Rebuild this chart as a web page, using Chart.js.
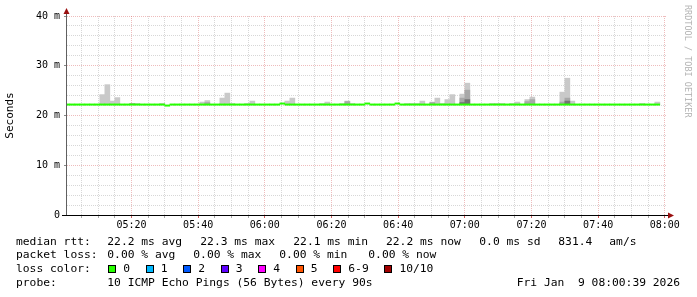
<!DOCTYPE html>
<html>
<head>
<meta charset="utf-8">
<script src="https://cdn.jsdelivr.net/npm/chart.js@4.4.1/dist/chart.umd.min.js"></script>
<style>
  html, body { margin: 0; padding: 0; background: #fff; }
  #wrap { position: relative; width: 697px; height: 297px; overflow: hidden; font-family: "DejaVu Sans Mono", monospace; }
  #chart { position: absolute; left: 0; top: 0; }
  .t { position: absolute; font-size: 11.3px; line-height: 14px; white-space: pre; color: #000; }
  .sq { position: absolute; width: 6px; height: 6px; border: 1px solid #000; }
  #credit { position: absolute; left: 693px; top: 5px; transform-origin: 0 0; transform: rotate(90deg);
            font-size: 8.5px; line-height: 10px; color: #b4b4b4; white-space: pre; }
</style>
</head>
<body>
<div id="wrap">
  <canvas id="chart" width="697" height="297"></canvas>
  <div id="credit">RRDTOOL / TOBI OETIKER</div>
  <div id="legend"></div>
</div>
<script>
// 90 s steps starting 05:00:00, graph window 05:00:39 - 08:00:39
const slotStartMin = 300;
const slotMin = 1.5;
const viewStartMin = 300 + 39 / 60;
const viewEndMin = 480 + 39 / 60;

// median rtt per step (ms)
const medianMs = [
  22.2, 22.2, 22.2, 22.2, 22.2, 22.2, 22.2, 22.2, 22.2, 22.2, 22.2, 22.2, 22.2, 22.2, 22.2, 22.2, 22.2, 22.2, 22.2, 22.2,
  22.0, 22.2, 22.2, 22.2, 22.2, 22.2, 22.2, 22.2, 22.2, 22.2, 22.2, 22.2, 22.2, 22.2, 22.2, 22.2, 22.2, 22.2, 22.2, 22.2,
  22.2, 22.2, 22.2, 22.4, 22.2, 22.2, 22.2, 22.2, 22.2, 22.2, 22.2, 22.2, 22.2, 22.2, 22.2, 22.2, 22.2, 22.2, 22.2, 22.2,
  22.4, 22.2, 22.2, 22.2, 22.2, 22.2, 22.4, 22.2, 22.2, 22.2, 22.2, 22.2, 22.2, 22.2, 22.2, 22.2, 22.2, 22.2, 22.2, 22.2,
  22.2, 22.2, 22.2, 22.2, 22.2, 22.2, 22.2, 22.2, 22.2, 22.2, 22.2, 22.2, 22.2, 22.2, 22.2, 22.2, 22.2, 22.2, 22.2, 22.2,
  22.2, 22.2, 22.2, 22.2, 22.2, 22.2, 22.2, 22.2, 22.2, 22.2, 22.2, 22.2, 22.2, 22.2, 22.2, 22.2, 22.2, 22.2, 22.2
];

// smoke: slowest ping (light), inner pings (mid), core (dark), in ms
const smokeMaxMs = [
  null, null, null, null, null, null, null, 24.2, 26.2, 22.9, 23.6, null, null, 22.4, 22.4, null, null, null, null, 22.4,
  null, null, null, null, null, null, null, 22.7, 23.0, null, null, 23.5, 24.5, 22.4, null, null, 22.4, 22.9, null, null,
  null, null, null, 22.4, 22.9, 23.5, null, null, null, null, null, 22.4, 22.7, null, null, 22.4, 22.9, 22.4, null, null,
  null, null, null, null, null, null, null, null, 22.4, 22.4, 22.4, 22.9, null, 22.7, 23.5, 22.4, 23.2, 24.2, null, 24.3,
  26.5, null, null, null, null, 22.4, 22.4, 22.4, null, 22.4, 22.7, null, 23.2, 23.7, null, null, null, null, null, 24.7,
  27.5, 22.9, null, null, null, null, null, null, null, null, null, null, null, null, null, 22.4, null, null, 22.7
];
const smokeMidMs = [
  null, null, null, null, null, null, null, null, null, null, null, null, null, 22.4, null, null, null, null, null, null,
  null, null, null, null, null, null, null, null, 22.6, null, null, null, null, null, null, null, null, null, null, null,
  null, null, null, null, null, null, null, null, null, null, null, null, null, null, null, null, 22.8, null, null, null,
  null, null, null, null, null, null, null, null, null, null, null, null, null, 22.6, null, null, null, null, null, 23.5,
  25.1, null, null, null, null, null, null, null, null, null, null, null, 22.8, 23.2, null, null, null, null, null, 22.7,
  23.5, null, null, null, null, null, null, null, null, null, null, null, null, null, null, null, null, null, null
];
const smokeDarkMs = [
  null, null, null, null, null, null, null, null, null, null, null, null, null, null, null, null, null, null, null, null,
  null, null, null, null, null, null, null, null, null, null, null, null, null, null, null, null, null, null, null, null,
  null, null, null, null, null, null, null, null, null, null, null, null, null, null, null, null, null, null, null, null,
  null, null, null, null, null, null, null, null, null, null, null, null, null, null, null, null, null, null, null, 22.6,
  23.2, null, null, null, null, null, null, null, null, null, null, null, null, null, null, null, null, null, null, null,
  22.9, null, null, null, null, null, null, null, null, null, null, null, null, null, null, null, null, null, null
];

const yTickMs = [0, 10, 20, 30, 40];
const yTickLabels = ['0', '10 m', '20 m', '30 m', '40 m'];
const xTickLabels = ['05:20', '05:40', '06:00', '06:20', '06:40', '07:00', '07:20', '07:40', '08:00'];

const lossLabels = ['0', '1', '2', '3', '4', '5', '6-9', '10/10'];
const lossColors = ['#26ff00', '#00b8ff', '#0059ff', '#5e00ff', '#ff00ff', '#ff5500', '#ff0000', '#a10000'];

const statsRtt = ['22.2 ms avg', '22.3 ms max', '22.1 ms min', '22.2 ms now', '0.0 ms sd', '831.4', 'am/s'];
const statsLoss = ['0.00 % avg', '0.00 % max', '0.00 % min', '0.00 % now'];
const probeText = '10 ICMP Echo Pings (56 Bytes) every 90s';
const stampText = 'Fri Jan  9 08:00:39 2026';

const fmtTime = m => String(Math.floor(m / 60)).padStart(2, '0') + ':' + String(m % 60).padStart(2, '0');
const slotX = k => slotStartMin + slotMin * k + slotMin / 2;
const band = (arr) => arr.map((v, k) => ({ x: slotX(k), y: v == null ? null : [medianMs[k], v] }));

const gridMinor = 'rgba(150,150,150,0.38)';
const gridMajor = 'rgba(210,80,80,0.38)';
const monoFont = { family: 'DejaVu Sans Mono', size: 10 };

const axesPlugin = {
  id: 'rrdAxes',
  afterDatasetsDraw(chart) {
    const { ctx, chartArea: a } = chart;
    ctx.save();
    ctx.lineWidth = 1;
    ctx.strokeStyle = '#606060';
    ctx.beginPath();
    ctx.moveTo(a.left - 0.5, a.bottom);
    ctx.lineTo(a.left - 0.5, a.top - 3);
    ctx.stroke();
    ctx.strokeStyle = '#000';
    ctx.beginPath();
    ctx.moveTo(a.left - 5, a.bottom + 0.5);
    ctx.lineTo(a.right + 2, a.bottom + 0.5);
    ctx.stroke();
    ctx.fillStyle = '#9a1010';
    ctx.beginPath();
    ctx.moveTo(a.left - 0.5, a.top - 8);
    ctx.lineTo(a.left - 3.5, a.top - 2);
    ctx.lineTo(a.left + 2.5, a.top - 2);
    ctx.closePath();
    ctx.fill();
    ctx.beginPath();
    ctx.moveTo(a.right + 7, a.bottom + 0.5);
    ctx.lineTo(a.right + 1, a.bottom - 2.5);
    ctx.lineTo(a.right + 1, a.bottom + 3.5);
    ctx.closePath();
    ctx.fill();
    ctx.restore();
  }
};

new Chart(document.getElementById('chart').getContext('2d'), {
  type: 'bar',
  data: {
    datasets: [{
      label: 'median rtt',
      data: medianMs.map((m, k) => ({ x: slotX(k), y: [m - 0.2, m + 0.2] })),
      backgroundColor: '#26ff00',
      barPercentage: 1.1
    }, {
      label: 'smoke core',
      data: band(smokeDarkMs),
      backgroundColor: '#747474'
    }, {
      label: 'smoke inner',
      data: band(smokeMidMs),
      backgroundColor: '#a8a8a8'
    }, {
      label: 'smoke outer',
      data: band(smokeMaxMs),
      backgroundColor: '#c9c9c9'
    }]
  },
  options: {
    responsive: false,
    animation: false,
    events: [],
    datasets: { bar: { grouped: false, categoryPercentage: 1, barPercentage: 1, borderWidth: 0 } },
    layout: { autoPadding: false, padding: { left: 0, top: 16, right: 30, bottom: 0 } },
    plugins: { legend: { display: false }, tooltip: { enabled: false } },
    scales: {
      x: {
        type: 'linear',
        offset: false,
        min: viewStartMin,
        max: viewEndMin,
        afterFit: s => { s.height = 82; s.paddingLeft = 0; s.paddingRight = 0; },
        afterBuildTicks: s => {
          const ticks = [];
          for (let m = 305; m <= 480; m += 5) ticks.push({ value: m });
          s.ticks = ticks;
        },
        border: { display: false, dash: [1, 1] },
        grid: {
          offset: false,
          color: c => (c.tick && c.tick.value % 20 === 0) ? gridMajor : gridMinor,
          tickColor: c => (c.tick && c.tick.value % 20 === 0) ? '#d06060' : '#aaa',
          tickLength: 3,
          lineWidth: 1
        },
        ticks: {
          autoSkip: false,
          maxRotation: 0,
          padding: 1,
          color: '#000',
          font: monoFont,
          callback: v => {
            const lbl = fmtTime(v);
            return xTickLabels.includes(lbl) ? lbl : '';
          }
        }
      },
      y: {
        min: 0,
        max: 40,
        afterFit: s => { s.width = 67; s.paddingTop = 0; s.paddingBottom = 0; },
        border: { display: false, dash: [1, 1] },
        grid: {
          color: c => (c.tick && c.tick.value % 10 === 0) ? gridMajor : gridMinor,
          tickColor: c => (c.tick && c.tick.value % 10 === 0) ? '#888' : 'rgba(0,0,0,0)',
          tickLength: 3,
          lineWidth: 1
        },
        ticks: {
          stepSize: 2,
          autoSkip: false,
          padding: 4,
          color: '#000',
          font: monoFont,
          callback: v => {
            const i = yTickMs.indexOf(v);
            return i >= 0 ? yTickLabels[i] : '';
          }
        },
        title: {
          display: true,
          text: 'Seconds',
          color: '#000',
          font: { family: 'DejaVu Sans Mono', size: 11 },
          padding: { top: 4, bottom: 0 }
        }
      }
    }
  },
  plugins: [axesPlugin]
});

// text legend under the graph
const legend = document.getElementById('legend');
function put(text, left, top, extra) {
  const d = document.createElement('div');
  d.className = 't';
  d.textContent = text;
  d.style.left = left + 'px';
  d.style.top = top + 'px';
  if (extra) Object.assign(d.style, extra);
  legend.appendChild(d);
  return d;
}
const rows = [235, 248, 262, 276];
const rttX = [107.3, 200.3, 293.3, 386, 479.3, 558.3, 609.3];
const lossX = [107.3, 193.3, 279.3, 368.3];
put('median rtt:', 16, rows[0]);
statsRtt.forEach((s, i) => put(s, rttX[i], rows[0]));
put('packet loss:', 16, rows[1]);
statsLoss.forEach((s, i) => put(s, lossX[i], rows[1]));
put('loss color:', 16, rows[2]);
let lx = 108.3;
lossLabels.forEach((lbl, i) => {
  const sq = document.createElement('span');
  sq.className = 'sq';
  sq.style.left = lx + 'px';
  sq.style.top = '265px';
  sq.style.background = lossColors[i];
  legend.appendChild(sq);
  put(lbl, lx + 15, rows[2]);
  lx += 15 + lbl.length * 6.8 + 15.7;
});
put('probe:', 16, rows[3]);
put(probeText, 107.3, rows[3]);
put(stampText, 0, rows[3], { left: 'auto', right: '17px' });
</script>
</body>
</html>
